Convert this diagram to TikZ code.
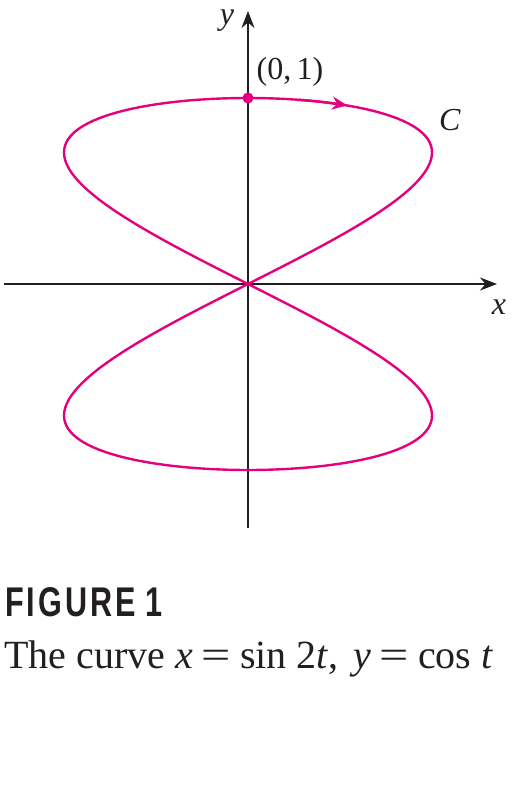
\documentclass[tikz,border=0pt]{standalone}
\usepackage{fontspec}
\setmainfont{Liberation Serif}
\newfontfamily\figfont{Liberation Sans}
\usetikzlibrary{arrows.meta}
\definecolor{curvemag}{RGB}{229,0,126}
\definecolor{axisgray}{RGB}{35,31,32}
\newcommand{\bigeq}{\hspace{9pt}\scalebox{1.3}[1]{=}\hspace{9pt}}
\begin{document}
\begin{tikzpicture}[x=1pt,y=-1pt,
  axisline/.style={draw=axisgray,line width=1.6pt,-{Stealth[length=17pt,width=13pt]}},
  curveline/.style={draw=curvemag,line width=2.4pt},
  lbl/.style={inner sep=0pt,font=\fontsize{32}{34}\selectfont,text=axisgray}]
\useasboundingbox (0,0) rectangle (517,808);
\coordinate (O) at (248,284);
\coordinate (xl) at (4,284);
\coordinate (xr) at (497,284);
\coordinate (yb) at (248,528);
\coordinate (yt) at (248,11);
\draw[axisline] (xl) -- (xr);
\draw[axisline] (yb) -- (yt);
\draw[curveline] plot[domain=0:360,samples=241,smooth] ({248+184*sin(2*\x)},{284-186*cos(\x)}) -- cycle;
\draw[curveline,-{Stealth[length=15pt,width=13pt]}] plot[domain=8:16.3,samples=10,smooth] ({248+184*sin(2*\x)},{284-186*cos(\x)});
\node[circle,fill=curvemag,inner sep=0pt,minimum size=11pt] (P) at (248,98) {};
\node[lbl] (ylab) at (227,21) {\textit{y}};
\node[lbl] (xlab) at (499,307) {\textit{x}};
\node[lbl] (Clab) at (450,120) {\textit{C}};
\node[lbl] (Plab) at (290,72) {(0,\,1)};
\node[anchor=base west,inner sep=0pt,text=axisgray] (fig) at (5,616) {\resizebox{157pt}{29pt}{\figfont\bfseries\fontsize{40}{44}\selectfont F\kern4pt I\kern4pt G\kern4pt U\kern4pt R\kern4pt E\kern12pt 1}};
\node[anchor=base west,inner sep=0pt,text=axisgray,font=\fontsize{40}{42}\selectfont] (cap) at (4,668) {The curve \textit{x}\bigeq sin 2\textit{t},\hspace{5pt} \textit{y}\bigeq cos \textit{t}};
\end{tikzpicture}
\end{document}
